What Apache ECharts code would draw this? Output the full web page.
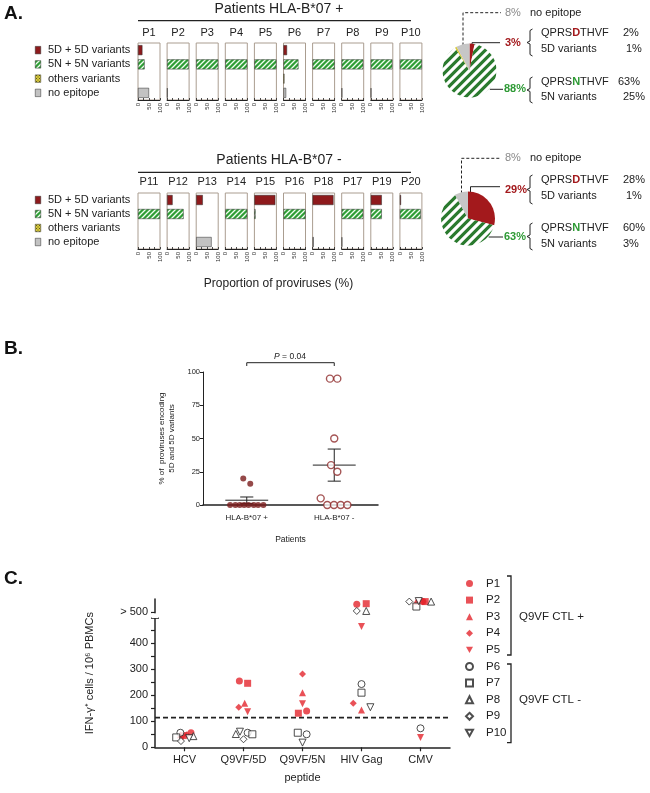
<!DOCTYPE html>
<html><head><meta charset="utf-8">
<script src="https://cdn.jsdelivr.net/npm/echarts@6/dist/echarts.min.js"></script>
<style>html,body{margin:0;padding:0;background:#fff}#c{width:650px;height:793px}</style>
</head><body><div id="c"></div><script>
// ---------- DATA ----------
// Panel A
const rowCats = ['5D + 5D variants', '5N + 5N variants', 'others variants', 'no epitope'];
const patientsPos = ['P1','P2','P3','P4','P5','P6','P7','P8','P9','P10'];
const patientsNeg = ['P11','P12','P13','P14','P15','P16','P18','P17','P19','P20'];
const pos5D    = [20, 0, 0, 0, 0, 16, 0, 0, 0, 0];
const pos5N    = [30, 98, 100, 100, 100, 68, 100, 98, 98, 100];
const posOther = [0, 0, 0, 0, 0, 4, 0, 0, 0, 0];
const posNoEp  = [50, 2, 0, 0, 0, 12, 0, 2, 2, 0];
const neg5D    = [0, 25, 30, 0, 95, 0, 95, 0, 50, 5];
const neg5N    = [100, 75, 0, 100, 5, 100, 0, 98, 50, 95];
const negOther = [0, 0, 0, 0, 0, 0, 0, 0, 0, 0];
const negNoEp  = [0, 0, 70, 0, 0, 0, 5, 2, 0, 0];
const axisTicksA = [0, 50, 100];
const pieTop = [3, 88, 1, 8];      // 5D, 5N, others, no epitope
const pieBottom = [29, 63, 0, 8];
const topDSplit = [2, 1];  const topNSplit = [63, 25];
const botDSplit = [28, 1]; const botNSplit = [60, 3];
const titleTop = 'Patients HLA-B*07 +';
const titleBottom = 'Patients HLA-B*07 -';

// Panel B
const groupsB = ['HLA-B*07 +', 'HLA-B*07 -'];
const posB    = [20, 0, 0, 0, 0, 16, 0, 0, 0, 0];
const posBJit = [0.46, 0.31, 0.37, 0.42, 0.47, 0.54, 0.58, 0.63, 0.69, 0.52];
const negB    = [0, 25, 30, 0, 95, 0, 95, 0, 50, 5];
const negBJit = [1.42, 1.535, 1.463, 1.497, 1.451, 1.574, 1.535, 1.65, 1.50, 1.345];
const ticksB  = [0, 25, 50, 75, 100];
const pValue  = '0.04';

// Panel C
const peptides = ['HCV', 'Q9VF/5D', 'Q9VF/5N', 'HIV Gag', 'CMV'];
const ctlPatients = ['P1','P2','P3','P4','P5','P6','P7','P8','P9','P10'];
const ifnP1  = [56, 255, 140, 550, 560];
const ifnP2  = [45, 246, 131, 552, 560];
const ifnP3  = [48, 169, 210, 143, 560];
const ifnP4  = [48, 154, 282, 169, 560];
const ifnP5  = [38, 137, 167, 464, 38];
const ifnP6  = [56, 56, 50, 243, 73];
const ifnP7  = [38, 50, 56, 210, 541];
const ifnP8  = [43, 51, null, 524, 560];
const ifnP9  = [24, 31, null, 524, 560];
const ifnP10 = [35, 60, 18, 154, 562];
const jitP1  = [0.11, -0.07, 0.07, -0.08, 0.04];
const jitP2  = [-0.02, 0.07, -0.07, 0.08, 0.08];
const jitP3  = [-0.07, 0.02, 0, 0, -0.07];
const jitP4  = [0.04, -0.08, 0, -0.14, 0.04];
const jitP5  = [-0.03, 0.07, 0, 0, 0];
const jitP6  = [-0.07, 0.07, 0.07, 0, 0];
const jitP7  = [-0.14, 0.15, -0.08, 0, -0.07];
const jitP8  = [0.15, -0.13, 0, 0.08, 0.18];
const jitP9  = [-0.06, 0, 0, -0.08, -0.19];
const jitP10 = [0.08, -0.06, 0, 0.15, -0.03];
const ticksC = [0, 100, 200, 300, 400];
const topTickC = 520; const topTickLabel = '> 500';
const thresholdC = 114;
const groupPlus = 'Q9VF CTL +'; const groupMinus = 'Q9VF CTL -';

// ---------- STYLES ----------
const FONT = 'Liberation Sans, Arial, Helvetica, sans-serif';
const RED_DARK = '#8e1a1c', RED_PIE = '#a3191c', GREEN_TXT = '#2e9a35';
const GRAY = '#c2c2c2', YELLOW = '#d8ca3a', RED_C = '#e3262d';
function stripePattern(bg, fg, size, lw) {
  const c = document.createElement('canvas'); c.width = size; c.height = size;
  const ctx = c.getContext('2d');
  ctx.fillStyle = bg; ctx.fillRect(0, 0, size, size);
  ctx.strokeStyle = fg; ctx.lineWidth = lw; ctx.lineCap = 'square';
  ctx.beginPath();
  ctx.moveTo(0, size); ctx.lineTo(size, 0);
  ctx.moveTo(-size / 2, size / 2); ctx.lineTo(size / 2, -size / 2);
  ctx.moveTo(size / 2, size * 1.5); ctx.lineTo(size * 1.5, size / 2);
  ctx.stroke();
  return {image: c, repeat: 'repeat'};
}
function checkPattern(bg, fg) {
  const c = document.createElement('canvas'); c.width = 3; c.height = 3;
  const ctx = c.getContext('2d');
  ctx.fillStyle = bg; ctx.fillRect(0, 0, 3, 3);
  ctx.fillStyle = fg; ctx.fillRect(0, 0, 1, 1); ctx.fillRect(1.5, 1.5, 1, 1);
  return {image: c, repeat: 'repeat'};
}
const barGreen = stripePattern('#2f9e36', '#f2fff2', 5, 1.3);
const pieGreen = stripePattern('#2a7a2e', '#ffffff', 9, 3.2);
const othersPat = checkPattern(YELLOW, '#5e5820');
const barStyles = [
  {color: RED_DARK, borderColor: '#2a2a2a', borderWidth: 0.5},
  {color: barGreen, borderColor: '#2a2a2a', borderWidth: 0.5},
  {color: othersPat, borderColor: '#2a2a2a', borderWidth: 0.5},
  {color: GRAY, borderColor: '#2a2a2a', borderWidth: 0.5}
];
const pieStyles = [
  {color: RED_PIE}, {color: pieGreen}, {color: YELLOW}, {color: '#c6c6c6'}
];

const grids = [], xAxes = [], yAxes = [], series = [], graphics = [];
function txt(x, y, text, o) {
  o = o || {};
  return {type: 'text', x: x, y: y, silent: true, style: Object.assign({
    text: text, fill: o.fill || '#222', fontSize: o.size || 11, fontFamily: FONT,
    fontWeight: o.weight || 'normal', fontStyle: o.style || 'normal',
    align: o.align || 'left', verticalAlign: o.va || 'middle',
    textAlign: o.align || 'left', textVerticalAlign: o.va || 'middle'
  }, o.extra || {})};
}
function pline(points, o) {
  o = o || {};
  return {type: 'polyline', silent: true, shape: {points: points},
    style: {stroke: o.stroke || '#222', lineWidth: o.width || 1, fill: null, lineDash: o.dash || null}};
}

// ---------- PANEL A ----------
const groupsA = [
  {top: 43, h: 57, names: patientsPos, d: [pos5D, pos5N, posOther, posNoEp], title: titleTop, ty: 9.5, ly: 20.7, py: 32.7},
  {top: 193, h: 56, names: patientsNeg, d: [neg5D, neg5N, negOther, negNoEp], title: titleBottom, ty: 160, ly: 172.3, py: 181.7}
];
groupsA.forEach((G) => {
  for (let i = 0; i < 10; i++) {
    const idx = grids.length;
    const left = 138 + i * 29.1;
    grids.push({left: left, top: G.top, width: 22, height: G.h, show: true, borderColor: '#aa9d90', borderWidth: 1, outerBoundsMode: 'none', containLabel: false});
    xAxes.push({type: 'value', gridIndex: idx, min: 0, max: 100, interval: 25,
      axisLine: {show: true, lineStyle: {color: '#222', width: 1}},
      axisTick: {show: true, inside: true, length: 2, lineStyle: {color: '#222', width: 0.8}},
      axisLabel: {show: true, rotate: 90, fontSize: 6, color: '#333', margin: 3, fontFamily: FONT,
        formatter: v => axisTicksA.includes(v) ? String(v) : ''},
      splitLine: {show: false}});
    yAxes.push({type: 'category', gridIndex: idx, data: rowCats, inverse: true, show: false});
    series.push({type: 'bar', xAxisIndex: idx, yAxisIndex: idx, barWidth: 10, silent: true,
      data: rowCats.map((n, k) => ({value: G.d[k][i] > 0 ? G.d[k][i] : '-', itemStyle: barStyles[k]}))});
    graphics.push(txt(left + 11, G.py, G.names[i], {align: 'center', size: 11}));
  }
  graphics.push(txt(279, G.ty, G.title, {align: 'center', size: 14}));
  graphics.push(pline([[138, G.ly], [411, G.ly]], {width: 1.2}));
});
// legends for panel A (tiny bar grids)
[43, 193].forEach((top, g) => {
  const idx = grids.length;
  grids.push({left: 35, top: top, width: 6, height: g ? 56 : 57, outerBoundsMode: 'none', containLabel: false});
  xAxes.push({type: 'value', gridIndex: idx, min: 0, max: 1, show: false});
  yAxes.push({type: 'category', gridIndex: idx, data: rowCats, inverse: true, show: false});
  series.push({type: 'bar', xAxisIndex: idx, yAxisIndex: idx, barWidth: 8, silent: true,
    label: {show: true, position: 'right', distance: 7, formatter: p => p.name, fontSize: 11, color: '#222', fontFamily: FONT},
    data: rowCats.map((n, k) => ({value: 1, name: n, itemStyle: barStyles[k]}))});
});
// pies
const pieCenters = [[469.5, 70.5], [468, 218.5]];
[pieTop, pieBottom].forEach((P, g) => {
  series.push({type: 'pie', center: pieCenters[g], radius: 27, startAngle: 90, clockwise: true, silent: true,
    label: {show: false}, labelLine: {show: false}, emphasis: {disabled: true},
    itemStyle: {borderWidth: 0},
    data: P.map((v, k) => ({value: v, name: rowCats[k], itemStyle: pieStyles[k]}))});
});
function brace(x, y0, y1) {
  const m = (y0 + y1) / 2;
  return pline([[x + 5.5, y0], [x + 3, y0 + 1.5], [x + 3, m - 1.5], [x, m], [x + 3, m + 1.5], [x + 3, y1 - 1.5], [x + 5.5, y1]], {width: 1});
}
const richD = {a: {fontSize: 11, fontFamily: FONT, fill: '#222', color: '#222'}, d: {fontSize: 11, fontFamily: FONT, fontWeight: 'bold', fill: RED_PIE, color: RED_PIE}};
const richN = {a: {fontSize: 11, fontFamily: FONT, fill: '#222', color: '#222'}, d: {fontSize: 11, fontFamily: FONT, fontWeight: 'bold', fill: GREEN_TXT, color: GREEN_TXT}};
const annot = [
  {p: pieTop, ds: topDSplit, ns: topNSplit, c: pieCenters[0], ne: 12.7, dy: 42.7, dl: 42.7, bD: [29, 56], qD: 33.3, vD: 49.3, ny: 89.3, bN: [77, 103], qN: 81.7, vN: 97.3, nStarts: [618, 623]},
  {p: pieBottom, ds: botDSplit, ns: botNSplit, c: pieCenters[1], ne: 158.3, dy: 190, dl: 186.7, bD: [175, 204], qD: 180, vD: 196, ny: 237, bN: [223, 250], qN: 228, vN: 244, nStarts: [623, 623]}
];
annot.forEach(A => {
  const cx = A.c[0], cy = A.c[1];
  graphics.push(pline([[cx - 6.5, cy - 25], [cx - 6.5, A.ne], [501, A.ne]], {dash: [3, 2]}));
  graphics.push(txt(505, A.ne, A.p[3] + '%', {fill: '#8a8a8a', size: 11}));
  graphics.push(txt(530, A.ne, rowCats[3], {size: 11}));
  graphics.push(pline([[cx + 2.5, cy - 21], [cx + 2.5, A.dl], [500, A.dl]], {}));
  graphics.push(txt(505, A.dy, A.p[0] + '%', {fill: RED_PIE, size: 11, weight: 'bold'}));
  graphics.push(brace(527, A.bD[0], A.bD[1]));
  graphics.push(txt(541, A.qD, '{a|QPRS}{d|D}{a|THVF}', {extra: {rich: richD}}));
  graphics.push(txt(623, A.qD, A.ds[0] + '%'));
  graphics.push(txt(541, A.vD, '5D variants'));
  graphics.push(txt(626, A.vD, A.ds[1] + '%'));
  const dx = Math.sqrt(Math.max(0, 27 * 27 - (A.ny - cy) * (A.ny - cy)));
  graphics.push(pline([[cx + dx + 1, A.ny], [503, A.ny]], {}));
  graphics.push(txt(504, A.ny, A.p[1] + '%', {fill: GREEN_TXT, size: 11, weight: 'bold'}));
  graphics.push(brace(527, A.bN[0], A.bN[1]));
  graphics.push(txt(541, A.qN, '{a|QPRS}{d|N}{a|THVF}', {extra: {rich: richN}}));
  graphics.push(txt(A.nStarts[0], A.qN, A.ns[0] + '%'));
  graphics.push(txt(541, A.vN, '5N variants'));
  graphics.push(txt(A.nStarts[1], A.vN, A.ns[1] + '%'));
});
graphics.push(txt(278.5, 283.3, 'Proportion of proviruses (%)', {align: 'center', size: 12}));
graphics.push(txt(4, 14, 'A.', {size: 19, weight: 'bold', fill: '#111'}));

// ---------- PANEL B ----------
const gB = grids.length;
grids.push({left: 203, top: 372, width: 175, height: 133, outerBoundsMode: 'none', containLabel: false});
xAxes.push({type: 'value', gridIndex: gB, min: 0, max: 2, interval: 0.5,
  axisLine: {show: true, lineStyle: {color: '#222', width: 1.5}}, axisTick: {show: false}, splitLine: {show: false},
  axisLabel: {fontSize: 8, color: '#222', margin: 9, fontFamily: FONT, formatter: v => v === 0.5 ? groupsB[0] : (v === 1.5 ? groupsB[1] : '')},
  name: 'Patients', nameLocation: 'middle', nameGap: 30, nameTextStyle: {fontSize: 8.5, color: '#222', fontFamily: FONT}});
yAxes.push({type: 'value', gridIndex: gB, min: 0, max: 100, interval: 25,
  axisLine: {show: true, lineStyle: {color: '#222', width: 1}},
  axisTick: {show: true, length: 3, lineStyle: {color: '#222'}}, splitLine: {show: false},
  axisLabel: {fontSize: 7.5, color: '#222', margin: 3, fontFamily: FONT, formatter: v => ticksB.includes(v) ? String(v) : ''},
  name: '% of  proviruses encoding\n5D and 5D variants', nameLocation: 'middle', nameGap: 26,
  nameTextStyle: {fontSize: 8, lineHeight: 10, color: '#222', fontFamily: FONT}});
const xB = gB, yB = gB;
series.push({type: 'scatter', xAxisIndex: xB, yAxisIndex: yB, symbol: 'circle', symbolSize: 6, silent: true, z: 5,
  itemStyle: {color: '#7a1c1c'}, data: posB.map((v, i) => [posBJit[i], v])});
series.push({type: 'scatter', xAxisIndex: xB, yAxisIndex: yB, symbol: 'circle', symbolSize: 7, silent: true, z: 5,
  itemStyle: {color: '#fff', borderColor: '#8e2a2a', borderWidth: 1.4}, data: negB.map((v, i) => [negBJit[i], v])});
function stats(a) {
  const m = a.reduce((s, v) => s + v, 0) / a.length;
  const sd = Math.sqrt(a.reduce((s, v) => s + (v - m) * (v - m), 0) / (a.length - 1));
  return [m, sd / Math.sqrt(a.length)];
}
function seg(pts, w) {
  series.push({type: 'line', xAxisIndex: xB, yAxisIndex: yB, data: pts, symbol: 'none', silent: true, clip: false, z: 4,
    lineStyle: {color: '#222', width: w || 1}});
}
[posB, negB].forEach((arr, g) => {
  const [m, se] = stats(arr); const c = g + 0.5;
  seg([[c - 0.245, m], [c + 0.245, m]]);
  seg([[c, m - se], [c, m + se]]);
  seg([[c - 0.075, m + se], [c + 0.075, m + se]]);
  seg([[c - 0.075, m - se], [c + 0.075, m - se]]);
});
seg([[0.5, 104.5], [0.5, 107], [1.5, 107], [1.5, 104.5]]);
graphics.push(txt(290, 357, '{i|P} = ' + pValue, {align: 'center', size: 8.5,
  extra: {rich: {i: {fontStyle: 'italic', fontSize: 8.5, fontFamily: FONT, fill: '#222'}}}}));
graphics.push(txt(4, 349, 'B.', {size: 19, weight: 'bold', fill: '#111'}));

// ---------- PANEL C ----------
const gC = grids.length;
grids.push({left: 155, top: 599, width: 295, height: 148.3, outerBoundsMode: 'none', containLabel: false});
xAxes.push({type: 'category', gridIndex: gC, data: peptides, boundaryGap: true,
  axisLine: {show: true, lineStyle: {color: '#222', width: 1.5}},
  axisTick: {show: true, alignWithLabel: true, length: 4, lineStyle: {color: '#222', width: 1.2}},
  axisLabel: {fontSize: 11, color: '#222', margin: 7, fontFamily: FONT, interval: 0},
  name: 'peptide', nameLocation: 'middle', nameGap: 25, nameTextStyle: {fontSize: 11, color: '#222', fontFamily: FONT}});
const xCval = xAxes.length;
xAxes.push({type: 'value', gridIndex: gC, min: 0, max: 5, show: false});
const yC = yAxes.length;
yAxes.push({type: 'value', gridIndex: gC, min: 0, max: 570,
  axisLine: {show: true, lineStyle: {color: '#222', width: 1.5}},
  axisTick: {show: true, length: 4, lineStyle: {color: '#222', width: 1.2},
    customValues: [0, 50, 100, 150, 200, 250, 300, 350, 400, 450, topTickC]},
  axisLabel: {fontSize: 11, color: '#222', margin: 7, fontFamily: FONT,
    customValues: ticksC.concat([topTickC]),
    formatter: v => v === topTickC ? topTickLabel : String(v)},
  splitLine: {show: false},
  name: 'IFN-\u03b3\u207a cells / 10\u2076 PBMCs', nameLocation: 'middle', nameGap: 60,
  nameTextStyle: {fontSize: 11, color: '#222', fontFamily: FONT}});
const ctlVals = [ifnP1, ifnP2, ifnP3, ifnP4, ifnP5, ifnP6, ifnP7, ifnP8, ifnP9, ifnP10];
const ctlJit = [jitP1, jitP2, jitP3, jitP4, jitP5, jitP6, jitP7, jitP8, jitP9, jitP10];
const downTri = 'path://M0,0L10,0L5,9Z';
const symbolsC = ['circle', 'rect', 'triangle', 'diamond', downTri, 'circle', 'rect', 'triangle', 'diamond', downTri];
series.push({type: 'line', xAxisIndex: xCval, yAxisIndex: yC, data: [[0, thresholdC], [5, thresholdC]], symbol: 'none', silent: true,
  lineStyle: {color: '#222', width: 1.8, type: [5, 3]}, z: 2});
ctlPatients.forEach((p, i) => {
  series.push({type: 'scatter', name: p, xAxisIndex: xCval, yAxisIndex: yC, symbol: symbolsC[i], symbolSize: 7, silent: true, z: 5,
    itemStyle: i < 5 ? {color: RED_C, borderWidth: 0} : {color: '#fff', borderColor: '#222', borderWidth: 1},
    data: ctlVals[i].map((v, k) => v == null ? null : [k + 0.5 + ctlJit[i][k], v]).filter(d => d)});
});
// axis break decoration
graphics.push({type: 'rect', silent: true, z: 100, shape: {x: 152, y: 613.3, width: 6, height: 4.7}, style: {fill: '#fff'}});
graphics.push(pline([[151, 618.2], [159, 618.2]], {width: 1.2}));
// legend brackets & labels
graphics.push(pline([[507, 576], [511, 576], [511, 655], [507, 655]], {width: 1.3}));
graphics.push(pline([[507, 664], [511, 664], [511, 742.7], [507, 742.7]], {width: 1.3}));
graphics.push(txt(519, 616.7, groupPlus, {size: 11.5}));
graphics.push(txt(519, 700, groupMinus, {size: 11.5}));
graphics.push(txt(4, 579, 'C.', {size: 19, weight: 'bold', fill: '#111'}));

const option = {
  animation: false,
  backgroundColor: '#fff',
  textStyle: {fontFamily: FONT},
  grid: grids, xAxis: xAxes, yAxis: yAxes, series: series,
  legend: {show: true, data: ctlPatients.map((p, i) => ({name: p, icon: symbolsC[i]})), orient: 'vertical', left: 465, top: 577.5,
    padding: 0, itemWidth: 7, itemHeight: 7, itemGap: 4.6, selectedMode: false,
    textStyle: {fontSize: 11.5, lineHeight: 12, color: '#222', fontFamily: FONT, padding: [0, 0, 0, 8]}},
  graphic: {elements: graphics}
};
const chart = echarts.init(document.getElementById('c'), null, {renderer: 'canvas', width: 650, height: 793});
chart.setOption(option);
</script></body></html>
